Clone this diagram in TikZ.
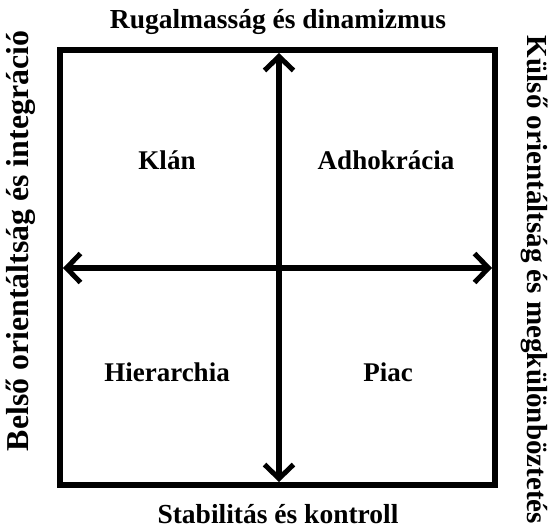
\documentclass[tikz,border=0pt]{standalone}
\usepackage{fontspec}
\usepackage{graphicx}
\setmainfont{Liberation Serif}
\usetikzlibrary{arrows.meta}
\tikzset{
  frame/.style={line width=5.5pt},
  axis/.style={line width=5.5pt,-{Straight Barb[length=14pt,width=29pt,line width=5pt]}},
  lbl/.style={font=\fontsize{27}{30}\selectfont\bfseries, inner sep=0pt},
  hside/.style={font=\fontsize{27.5}{30}\selectfont\bfseries, inner sep=0pt},
  vside/.style={font=\fontsize{30}{34}\selectfont\bfseries, inner sep=0pt}
}
\begin{document}
\begin{tikzpicture}[x=1pt,y=-1pt]
\useasboundingbox (0,0) rectangle (551,528);
\node[frame,draw,minimum width=435pt,minimum height=435pt,inner sep=0pt] (box) at (277.5,267.5) {};
\coordinate (c) at (279,268);
\coordinate (t) at (279,50);
\coordinate (b) at (279,485);
\coordinate (l) at (60,268);
\coordinate (r) at (495,268);
\draw[axis] (c) -- ([yshift=-3pt]t);
\draw[axis] (c) -- ([yshift=3pt]b);
\draw[axis] (c) -- ([xshift=3pt]l);
\draw[axis] (c) -- ([xshift=-3pt]r);
\node[hside,anchor=base] (top) at (278,28) {Rugalmasság és dinamizmus};
\node[hside,anchor=base] (bot) at (278,523) {Stabilitás és kontroll};
\node[vside,rotate=90,anchor=base] (left) at (28,241) {\resizebox{420pt}{!}{Belső orientáltság és integráció}};
\node[vside,rotate=-90,anchor=base] (right) at (527,280) {\resizebox{488pt}{!}{Külső orientáltság és megkülönböztetés}};
\node[lbl] (klan) at (167,160) {Klán};
\node[lbl] (adho) at (386,160) {Adhokrácia};
\node[lbl] (hier) at (167,372) {Hierarchia};
\node[lbl] (piac) at (388,372) {Piac};
\end{tikzpicture}
\end{document}
